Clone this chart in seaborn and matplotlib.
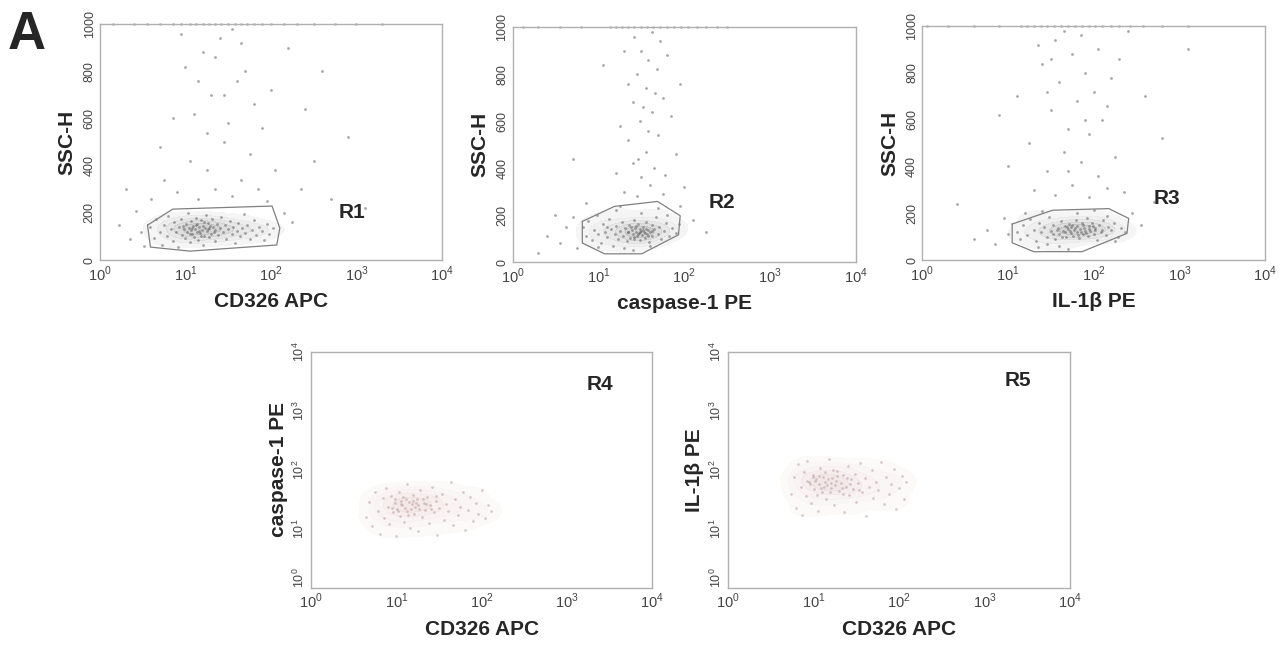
import numpy as np
import pandas as pd
import seaborn as sns
from matplotlib import pyplot as plt
from matplotlib.colors import LinearSegmentedColormap

# events: (log10 of fluorescence, SSC-H)
r1_core = [
    (0.58,140),(0.63,95),(0.66,172),(0.70,118),(0.72,66),(0.75,150),(0.78,104),(0.80,188),(0.83,132),(0.85,82),
    (0.87,160),(0.89,120),(0.91,56),(0.93,142),(0.95,176),(0.96,108),(0.98,130),(1.00,92),(1.01,155),(1.02,118),
    (1.03,200),(1.04,138),(1.05,75),(1.06,126),(1.07,165),(1.08,110),(1.09,145),(1.10,98),(1.11,132),(1.12,180),
    (1.13,120),(1.14,152),(1.15,86),(1.16,140),(1.17,114),(1.18,168),(1.19,128),(1.20,62),(1.21,146),(1.22,104),
    (1.23,136),(1.24,190),(1.25,122),(1.26,158),(1.27,96),(1.28,134),(1.30,112),(1.31,172),(1.32,142),(1.34,80),
    (1.35,126),(1.37,154),(1.38,106),(1.40,138),(1.42,184),(1.44,118),(1.46,148),(1.48,90),(1.50,130),(1.52,164),
    (1.54,110),(1.56,142),(1.58,72),(1.60,124),(1.62,156),(1.64,102),(1.66,136),(1.68,196),(1.70,116),(1.72,150),
    (1.75,88),(1.78,128),(1.80,170),(1.83,108),(1.86,140),(1.89,122),(1.92,84),(1.95,152),(1.98,112),(2.03,134),
    (0.97,145),(1.08,135),(1.12,150),(1.16,125),(1.22,160),(1.29,144),(1.33,118),(1.18,100),(1.05,112),(1.26,132),
]
r1_sparse = [
    (0.22,150),(0.35,90),(0.42,210),(0.48,120),(0.52,60),(0.30,300),(0.60,260),(0.75,340),(0.90,290),(1.05,420),
    (1.15,260),(1.25,380),(1.35,300),(1.45,500),(1.55,270),(1.65,340),(1.75,450),(1.85,300),(1.95,250),(2.05,380),
    (2.15,200),(2.25,160),(2.35,300),(2.50,420),(2.70,260),(2.90,520),(1.10,620),(1.30,700),(1.50,580),(1.70,800),
    (1.20,880),(1.40,940),(1.60,760),(1.00,820),(1.80,660),(2.00,720),(1.25,540),(0.85,600),(2.20,900),(1.55,980),
    (1.35,860),(0.95,960),(1.65,920),(2.40,640),(0.70,480),(3.10,220),(1.45,700),(1.15,760),(2.60,800),(1.90,560),
]
r1_top = [0.15,0.40,0.55,0.70,0.85,0.95,1.05,1.12,1.20,1.28,1.35,1.42,1.50,1.58,1.65,1.72,1.80,1.90,2.00,2.15,2.30,2.50,2.75,3.00,3.30]

r2_core = [
    (0.82,150),(0.85,110),(0.88,175),(0.92,95),(0.95,135),(0.98,200),(1.00,120),(1.03,82),(1.05,160),(1.08,128),
    (1.10,105),(1.12,185),(1.15,140),(1.17,70),(1.19,118),(1.21,152),(1.23,96),(1.25,134),(1.27,170),(1.29,112),
    (1.31,144),(1.33,88),(1.34,126),(1.36,158),(1.37,104),(1.39,138),(1.40,120),(1.41,180),(1.42,98),(1.43,146),
    (1.44,130),(1.45,112),(1.46,162),(1.47,124),(1.48,140),(1.49,92),(1.50,134),(1.51,116),(1.52,150),(1.53,128),
    (1.54,104),(1.55,142),(1.56,170),(1.57,120),(1.58,136),(1.59,86),(1.60,126),(1.62,156),(1.63,110),(1.65,140),
    (1.67,190),(1.69,118),(1.71,150),(1.73,100),(1.76,132),(1.79,168),(1.82,112),(1.86,146),(1.90,124),(1.94,160),
    (1.38,148),(1.46,118),(1.52,138),(1.44,152),(1.58,110),(1.35,130),(1.48,128),(1.42,108),(1.54,122),(1.62,132),
    (1.10,150),(1.20,220),(1.30,60),(1.50,210),(1.70,230),(1.00,62),(1.40,50),(1.60,70),(1.80,200),(1.25,240),
]
r2_sparse = [
    (0.40,110),(0.55,80),(0.62,150),(0.70,190),(0.75,60),(0.50,200),(0.30,40),(0.85,250),(1.95,240),(2.10,180),
    (2.25,130),(1.30,300),(1.45,280),(1.60,330),(1.75,290),(1.50,360),(1.40,420),(1.65,400),(1.55,470),(1.35,520),
    (1.70,540),(1.48,600),(1.62,640),(1.40,680),(1.75,700),(1.55,740),(1.45,800),(1.68,820),(1.58,860),(1.50,900),
    (1.72,940),(1.42,960),(1.62,980),(1.80,880),(1.35,760),(1.85,620),(1.25,580),(1.90,460),(1.20,380),(2.00,320),
    (1.05,840),(0.70,440),(2.40,260),(1.95,760),(1.30,900),(1.66,720),(1.52,660),(1.58,560),(1.46,440),(1.78,370),
]
r2_top = [0.12,0.30,0.55,0.80,1.13,1.20,1.28,1.35,1.42,1.50,1.57,1.64,1.72,1.80,1.88,1.96,2.05,2.15,2.25,2.38,2.50]

r3_core = [
    (1.10,120),(1.14,90),(1.18,150),(1.22,108),(1.26,175),(1.30,130),(1.33,80),(1.36,160),(1.39,118),(1.42,140),
    (1.45,100),(1.48,185),(1.50,126),(1.53,150),(1.55,92),(1.58,136),(1.60,112),(1.62,166),(1.64,124),(1.66,145),
    (1.68,98),(1.70,132),(1.71,155),(1.73,116),(1.74,140),(1.76,104),(1.77,128),(1.79,170),(1.80,120),(1.81,146),
    (1.83,94),(1.84,134),(1.86,158),(1.87,112),(1.89,138),(1.90,124),(1.92,180),(1.93,102),(1.95,144),(1.96,126),
    (1.98,160),(2.00,110),(2.02,136),(2.04,88),(2.06,150),(2.08,120),(2.11,172),(2.14,106),(2.17,140),(2.20,128),
    (2.24,158),(2.28,100),(2.32,136),(2.37,118),(1.78,136),(1.85,120),(1.72,126),(1.88,150),(1.82,108),(1.75,152),
    (1.94,134),(1.67,118),(1.91,114),(1.69,142),(2.01,130),(1.57,128),(1.63,100),(1.99,146),(1.52,110),(2.10,130),
    (1.20,200),(1.40,210),(1.60,60),(1.80,200),(2.00,215),(1.35,55),(1.70,48),(2.15,190),(1.45,70),(2.25,80),
]
r3_sparse = [
    (0.60,90),(0.75,130),(0.85,70),(0.95,180),(1.00,110),(2.45,200),(2.55,150),(2.70,250),(1.30,300),(1.55,280),
    (1.75,320),(1.95,270),(2.15,310),(2.35,290),(1.45,380),(1.85,420),(2.05,360),(1.65,460),(2.25,440),(1.25,500),
    (1.70,560),(1.95,540),(2.10,600),(1.50,640),(1.80,680),(2.00,720),(1.60,760),(1.90,800),(2.20,780),(1.40,840),
    (1.75,880),(2.05,900),(1.55,940),(1.85,960),(1.65,980),(2.30,860),(1.10,700),(0.90,620),(2.60,700),(2.80,520),
    (1.00,400),(3.10,900),(0.40,240),(1.35,920),(2.40,980),(1.50,860),(2.15,660),(1.70,380),(1.90,600),(1.45,720),
]
r3_top = [0.06,0.30,0.60,0.90,1.15,1.22,1.30,1.38,1.46,1.54,1.62,1.70,1.78,1.86,1.94,2.02,2.10,2.20,2.30,2.42,2.58,2.80,3.10]

# bottom row: (log10 CD326 APC, log10 PE)
r4_events = [
    (0.64,1.20),(0.68,1.45),(0.72,1.05),(0.75,1.62),(0.78,1.30),(0.81,0.92),(0.84,1.52),(0.86,1.18),(0.88,1.70),(0.90,1.38),
    (0.92,1.08),(0.94,1.56),(0.96,1.28),(0.98,1.44),(1.00,0.88),(1.01,1.34),(1.03,1.62),(1.04,1.22),(1.06,1.48),(1.07,1.40),
    (1.09,1.12),(1.10,1.36),(1.12,1.76),(1.13,1.30),(1.15,1.46),(1.16,1.02),(1.18,1.42),(1.19,1.58),(1.21,1.26),(1.22,1.38),
    (1.24,1.50),(1.25,0.96),(1.27,1.34),(1.28,1.66),(1.30,1.20),(1.32,1.44),(1.34,1.32),(1.36,1.54),(1.38,1.10),(1.40,1.40),
    (1.42,1.72),(1.44,1.28),(1.46,1.48),(1.48,0.90),(1.50,1.36),(1.53,1.60),(1.56,1.16),(1.58,1.42),(1.61,1.30),(1.64,1.80),
    (1.66,1.06),(1.69,1.50),(1.72,1.24),(1.75,1.38),(1.78,1.62),(1.81,0.98),(1.84,1.32),(1.87,1.54),(1.90,1.14),(1.93,1.44),
    (1.96,1.26),(2.00,1.66),(2.04,1.18),(2.08,1.40),(2.11,1.30),(0.95,1.36),(1.05,1.42),(1.11,1.50),(1.17,1.34),(1.23,1.44),
    (1.02,1.30),(1.08,1.54),(1.14,1.24),(1.20,1.48),(1.26,1.40),(0.99,1.50),(1.31,1.50),(1.35,1.42),(1.41,1.34),(1.47,1.56),
]
r5_events = [
    (0.74,1.60),(0.77,1.88),(0.80,1.36),(0.82,2.10),(0.85,1.72),(0.87,1.24),(0.89,1.96),(0.91,1.56),(0.93,2.16),(0.95,1.80),
    (0.97,1.44),(0.99,1.92),(1.01,1.68),(1.03,1.84),(1.05,1.30),(1.06,1.76),(1.08,2.04),(1.10,1.62),(1.11,1.88),(1.13,1.80),
    (1.15,1.50),(1.16,1.74),(1.18,2.18),(1.20,1.70),(1.22,1.86),(1.24,1.40),(1.26,1.82),(1.28,1.98),(1.30,1.64),(1.32,1.78),
    (1.34,1.92),(1.36,1.28),(1.38,1.72),(1.40,2.06),(1.42,1.58),(1.44,1.84),(1.46,1.68),(1.48,1.94),(1.50,1.46),(1.52,1.78),
    (1.55,2.12),(1.57,1.62),(1.60,1.86),(1.62,1.22),(1.65,1.72),(1.68,2.00),(1.70,1.52),(1.73,1.80),(1.76,1.66),(1.79,2.14),
    (1.82,1.42),(1.85,1.88),(1.88,1.60),(1.91,1.76),(1.94,2.02),(1.97,1.34),(2.00,1.70),(2.03,1.90),(2.06,1.50),(2.08,1.80),
    (0.96,1.76),(1.02,1.82),(1.07,1.90),(1.12,1.72),(1.17,1.84),(1.21,1.78),(1.00,1.88),(1.09,1.70),(1.14,1.96),(1.19,1.62),
    (1.25,1.74),(1.04,1.58),(1.27,1.90),(1.33,1.70),(1.39,1.86),(0.92,1.82),(1.23,2.00),(1.35,1.60),(1.43,1.76),(1.53,1.66),
]

# gate polygons (fluorescence, SSC-H)
gate1_x = [3.6, 7.1, 103, 127, 117, 11.3, 3.9]
gate1_y = [148, 216, 229, 136, 64, 38, 55]
gate2_x = [6.5, 15.4, 49, 90, 86, 32, 11.8, 6.5]
gate2_y = [173, 237, 258, 197, 116, 35, 35, 81]
gate3_x = [11.2, 33, 150, 256, 244, 73, 20, 11.2]
gate3_y = [154, 213, 220, 178, 114, 36, 36, 74]

top_xlabels = ["CD326 APC", "caspase-1 PE", "IL-1\u03b2 PE"]
bottom_ylabels = ["caspase-1 PE", "IL-1\u03b2 PE"]
region_names = ["R1", "R2", "R3", "R4", "R5"]

sns.set_style("white")
plt.rcParams['font.family'] = ['Liberation Sans', 'DejaVu Sans']
plt.rcParams['mathtext.fontset'] = 'custom'
plt.rcParams['mathtext.rm'] = 'Liberation Sans'

fig = plt.figure(figsize=(12.88, 6.47), dpi=100)
top_pos = [[0.0776, 0.598, 0.2655, 0.3648],
           [0.398, 0.595, 0.2663, 0.363],
           [0.716, 0.598, 0.2663, 0.3617]]
bot_pos = [[0.2415, 0.0912, 0.2648, 0.3648],
           [0.5652, 0.0912, 0.2655, 0.3648]]
label_pos = [(0.737, 0.20), (0.609, 0.255), (0.714, 0.265), (0.848, 0.864), (0.848, 0.877)]

decade_ticks = [1, 10, 100, 1000, 10000]
decade_labels = [r"$10^{0}$", r"$10^{1}$", r"$10^{2}$", r"$10^{3}$", r"$10^{4}$"]

grey_fog = LinearSegmentedColormap.from_list("grey_fog", ["#f2f2f2", "#a0a0a0"])
pink_fog = LinearSegmentedColormap.from_list("pink_fog", ["#fcf7f7", "#ead6d6"])


def style_axes(ax):
    for sp in ax.spines.values():
        sp.set_color("#b0b0b0")
        sp.set_linewidth(1.0)
    ax.tick_params(length=0, labelcolor="#444444", pad=3)
    ax.tick_params(axis="x", labelsize=10.5)
    ax.tick_params(axis="y", labelsize=9)
    ax.set_xscale("log")
    ax.set_xlim(1, 10000)
    ax.set_xticks(decade_ticks)
    ax.set_xticklabels(decade_labels)
    ax.minorticks_off()


cores = [r1_core, r2_core, r3_core]
sparses = [r1_sparse, r2_sparse, r3_sparse]
tops = [r1_top, r2_top, r3_top]
gates = [(gate1_x, gate1_y), (gate2_x, gate2_y), (gate3_x, gate3_y)]

for i in range(3):
    ax = fig.add_axes(top_pos[i])
    core = pd.DataFrame(cores[i], columns=["lx", "ssc"])
    core["fl"] = 10 ** core["lx"]
    ev = pd.DataFrame(cores[i] + sparses[i], columns=["lx", "ssc"])
    ev["fl"] = 10 ** ev["lx"]
    sat = pd.DataFrame({"fl": [10 ** v for v in tops[i]], "ssc": 1000})
    sns.kdeplot(data=core, x="fl", y="ssc", ax=ax, log_scale=(True, False), fill=True,
                levels=6, thresh=0.1, cmap=grey_fog, alpha=0.5, bw_adjust=1.2)
    sns.scatterplot(data=ev, x="fl", y="ssc", ax=ax, s=4, color="#606060",
                    alpha=0.55, linewidth=0, legend=False)
    sns.scatterplot(data=sat, x="fl", y="ssc", ax=ax, s=4, color="#808080",
                    alpha=0.5, linewidth=0, legend=False, clip_on=False)
    gx, gy = gates[i]
    ax.plot(gx + [gx[0]], gy + [gy[0]], color="#808080", lw=0.9)
    style_axes(ax)
    ax.set_ylim(0, 1000)
    ax.set_yticks([0, 200, 400, 600, 800, 1000])
    ax.set_yticklabels(["0", "200", "400", "600", "800", "1000"], rotation=90, va="center")
    ax.set_xlabel(top_xlabels[i], fontsize=15, fontweight="bold", labelpad=6)
    ax.set_ylabel("SSC-H", fontsize=15, fontweight="bold", labelpad=5)
    ax.text(*label_pos[i], region_names[i], transform=ax.transAxes, fontsize=15,
            fontweight="bold", ha="center", va="center")

bottoms = [r4_events, r5_events]
for j in range(2):
    ax = fig.add_axes(bot_pos[j])
    ev = pd.DataFrame(bottoms[j], columns=["lx", "ly"])
    ev["fx"] = 10 ** ev["lx"]
    ev["fy"] = 10 ** ev["ly"]
    sns.kdeplot(data=ev, x="fx", y="fy", ax=ax, log_scale=(True, True), fill=True,
                levels=6, thresh=0.1, cmap=pink_fog, alpha=0.6, bw_adjust=1.0)
    sns.scatterplot(data=ev, x="fx", y="fy", ax=ax, s=4, color="#bb9a9a",
                    alpha=0.5, linewidth=0, legend=False)
    style_axes(ax)
    ax.set_yscale("log")
    ax.set_ylim(1, 10000)
    ax.set_yticks(decade_ticks)
    ax.set_yticklabels(decade_labels, rotation=90, va="center")
    # corner label sits just above the x-axis 10^0
    ax.get_yticklabels()[0].set_va("bottom")
    ax.minorticks_off()
    ax.set_xlabel("CD326 APC", fontsize=15, fontweight="bold", labelpad=6)
    ax.set_ylabel(bottom_ylabels[j], fontsize=15, fontweight="bold", labelpad=3)
    ax.text(*label_pos[3 + j], region_names[3 + j], transform=ax.transAxes, fontsize=15,
            fontweight="bold", ha="center", va="center")

fig.text(0.006, 0.985, "A", fontsize=38, fontweight="bold", ha="left", va="top")

plt.savefig("out.png", dpi=100)
